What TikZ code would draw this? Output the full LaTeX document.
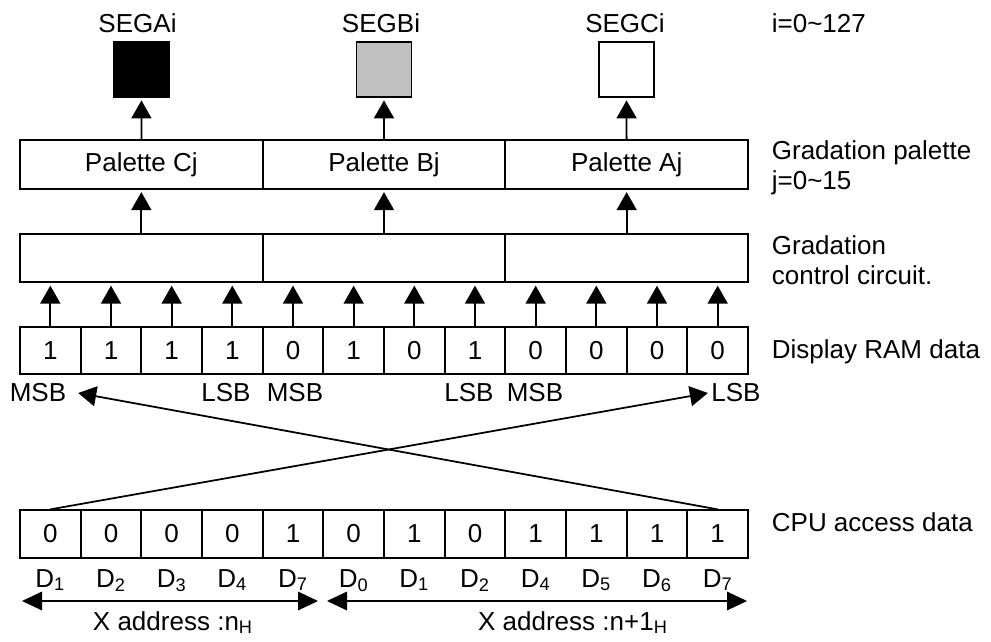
\documentclass[tikz,border=0pt]{standalone}
\usepackage{fontspec}
\setmainfont{Liberation Sans}
\usetikzlibrary{arrows.meta}
\definecolor{segfill}{HTML}{C0C0C0}

\begin{document}
\begin{tikzpicture}[font=\fontsize{14.8}{17}\selectfont,line width=1pt,
    seg/.style={draw,minimum size=1.10cm,inner sep=0pt},
    blk/.style={draw,minimum width=4.853cm,minimum height=0.97cm,inner sep=0pt},
    cell/.style={draw,minimum width=1.2133cm,minimum height=0.95cm,inner sep=0pt},
    side/.style={anchor=north west,align=left,inner sep=0pt},
    sidel/.style={anchor=base west,inner sep=0pt},
    bit/.style={inner sep=1.5pt},
    arr/.style={-{Triangle[length=0.36cm,width=0.40cm]},shorten >=0.05cm},
    darr/.style={{Triangle[length=0.40cm,width=0.37cm]}-{Triangle[length=0.40cm,width=0.37cm]}}]
  \useasboundingbox (0,0) rectangle (19.82,-12.84);
  % segments
  \node[seg,fill=black]   (segA) at (2.83,-1.39)  {};
  \node[seg,fill=segfill] (segB) at (7.68,-1.39)  {};
  \node[seg,fill=white]   (segC) at (12.53,-1.39) {};
  \node[anchor=base] (lsegA) at (2.75,-0.64)  {SEGAi};
  \node[anchor=base] (lsegB) at (7.62,-0.64)  {SEGBi};
  \node[anchor=base] (lsegC) at (12.50,-0.64) {SEGCi};
  % palettes and control circuit
  \node[blk] (palC) at (2.8267,-3.29)  {Palette Cj};
  \node[blk] (palB) at (7.68,-3.29)    {Palette Bj};
  \node[blk] (palA) at (12.5333,-3.29) {Palette Aj};
  \node[blk] (ctl1) at (2.8267,-5.16)  {};
  \node[blk] (ctl2) at (7.68,-5.16)    {};
  \node[blk] (ctl3) at (12.5333,-5.16) {};
  \draw[arr] (palC) -- (segA);
  \draw[arr] (palB) -- (segB);
  \draw[arr] (palA) -- (segC);
  \draw[arr] (ctl1) -- (palC);
  \draw[arr] (ctl2) -- (palB);
  \draw[arr] (ctl3) -- (palA);
  % display RAM and CPU data
  \foreach \v [count=\i] in {1,1,1,1,0,1,0,1,0,0,0,0}
    \node[cell] (r\i) at ({0.40+1.2133*(\i-0.5)},-7.01) {\v};
  \foreach \v [count=\i] in {0,0,0,0,1,0,1,0,1,1,1,1}
    \node[cell] (c\i) at ({0.40+1.2133*(\i-0.5)},-10.68) {\v};
  \foreach \i in {1,...,4}  \draw[arr] (r\i.north) -- (r\i.north |- ctl1.south);
  \foreach \i in {5,...,8}  \draw[arr] (r\i.north) -- (r\i.north |- ctl2.south);
  \foreach \i in {9,...,12} \draw[arr] (r\i.north) -- (r\i.north |- ctl3.south);
  \node[bit] (msb1) at (0.76,-7.86)  {MSB};
  \node[bit] (lsb1) at (4.52,-7.86)  {LSB};
  \node[bit] (msb2) at (5.90,-7.86)  {MSB};
  \node[bit] (lsb2) at (9.38,-7.86)  {LSB};
  \node[bit] (msb3) at (10.70,-7.86) {MSB};
  \node[bit] (lsb3) at (14.72,-7.86) {LSB};
  \draw[arr,shorten >=0pt] (c12.north) -- ([xshift=0.17cm]msb1.east);
  \draw[arr,shorten >=0pt] (c1.north) -- (lsb3.west);
  \foreach \d [count=\i] in {1,2,3,4,7,0,1,2,4,5,6,7}
    \node[anchor=base] (d\i) at (c\i |- 0,-11.74) {D\textsubscript{\d}};
  % address ranges
  \coordinate (nL) at (0.44,-12.02);
  \coordinate (nR) at (6.36,-12.02);
  \coordinate (mL) at (6.54,-12.02);
  \coordinate (mR) at (14.94,-12.02);
  \draw[darr] (nL) -- (nR);
  \draw[darr] (mL) -- (mR);
  \node[anchor=base] (xn)  at (3.46,-12.60)  {X address :n\textsubscript{H}};
  \node[anchor=base] (xn1) at (11.46,-12.60) {X address :n+1\textsubscript{H}};
  % side labels
  \node[sidel] (lrange) at (15.42,-0.64) {i=0\textasciitilde127};
  \node[side]  (lpal)   at (15.42,-2.80) {Gradation palette\\j=0\textasciitilde15};
  \node[side]  (lctl)   at (15.42,-4.70) {Gradation\\control circuit.};
  \node[sidel] (lram)   at (15.42,-7.16) {Display RAM data};
  \node[sidel] (lcpu)   at (15.42,-10.62) {CPU access data};
\end{tikzpicture}
\end{document}
